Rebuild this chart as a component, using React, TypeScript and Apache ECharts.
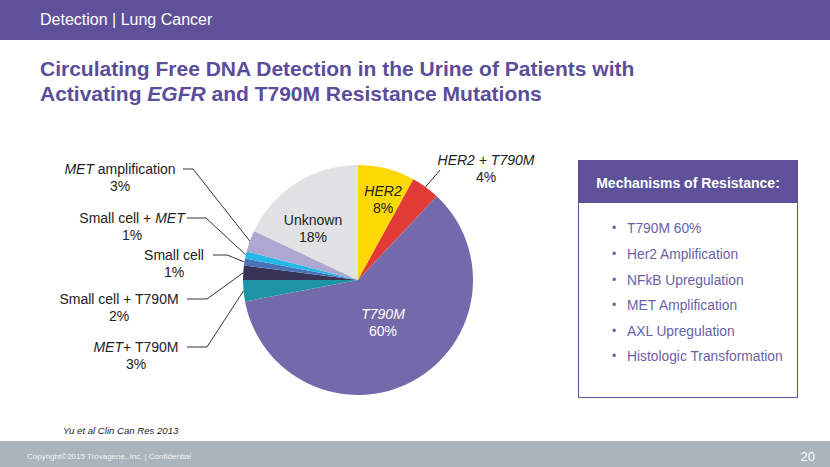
import React, { useEffect, useRef } from "react";
import * as echarts from "echarts";

const categories = [
  "HER2",
  "HER2 + T790M",
  "T790M",
  "MET+ T790M",
  "Small cell + T790M",
  "Small cell",
  "Small cell + MET",
  "MET amplification",
  "Unknown",
];
const values = [8, 4, 60, 3, 2, 1, 1, 3, 18];
const sliceColors = [
  "#FCD804",
  "#E23B36",
  "#7469AA",
  "#1B94A6",
  "#383456",
  "#4A72B9",
  "#22B8EA",
  "#ADA8D2",
  "#E2E2E4",
];
// rich-text markup of each label (italic parts in {i|...})
const labelMarkup = [
  "{i|HER2}\n{n|8%}",
  "{i|HER2 + T790M}\n{n|4%}",
  "{wi|T790M}\n{w|60%}",
  "{i|MET}{n|+ T790M}\n{n|3%}",
  "{n|Small cell + T790M}\n{n|2%}",
  "{n|Small cell}\n{n|1%}",
  "{n|Small cell + }{i|MET}\n{n|1%}",
  "{i|MET}{n| amplification}\n{n|3%}",
  "{n|Unknown}\n{n|18%}",
];
const mechanisms = [
  "T790M 60%",
  "Her2 Amplification",
  "NFkB Upregulation",
  "MET Amplification",
  "AXL Upregulation",
  "Histologic Transformation",
];

const FONT = "'Liberation Sans', Arial, Helvetica, sans-serif";
const PURPLE = "#5E5199";
const TITLE = "#5A4D9A";

// label placement (layout only)
const labelPos: Record<number, { x: number; y: number; elbow?: number[]; end?: number[] }> = {
  0: { x: 383, y: 199 },
  1: { x: 486, y: 168, end: [440, 170] },
  2: { x: 383, y: 322 },
  3: { x: 136, y: 355, elbow: [207, 347], end: [187, 347] },
  4: { x: 119, y: 307, elbow: [207, 299], end: [187, 299] },
  5: { x: 174, y: 263, elbow: [227, 255], end: [213, 255] },
  6: { x: 132, y: 226, elbow: [206, 218], end: [187, 218] },
  7: { x: 120, y: 177, elbow: [193, 169], end: [183, 169] },
  8: { x: 313, y: 228 },
};

const CX = 358;
const CY = 280;
const R = 115;

export default function App() {
  const ref = useRef<HTMLDivElement>(null);
  useEffect(() => {
    if (!ref.current) return;
    const chart = echarts.init(ref.current, null, { renderer: "svg" });
    const total = values.reduce((a, b) => a + b, 0);
    const midAngles: number[] = [];
    let acc = 0;
    values.forEach((v) => {
      midAngles.push(((acc + v / 2) / total) * Math.PI * 2);
      acc += v;
    });
    const insideIdx = [0, 2, 8];
    const fs = 14;
    const lh = 17;
    const rich = {
      n: { fontFamily: FONT, fontSize: fs, color: "#222", lineHeight: lh, align: "center" },
      i: { fontFamily: FONT, fontSize: fs, color: "#222", lineHeight: lh, fontStyle: "italic", align: "center" },
      w: { fontFamily: FONT, fontSize: fs, color: "#fff", lineHeight: lh, align: "center" },
      wi: { fontFamily: FONT, fontSize: fs, color: "#fff", lineHeight: lh, fontStyle: "italic", align: "center" },
    };
    const data = categories.map((name, i) => ({
      name,
      value: values[i],
      itemStyle: { color: sliceColors[i] },
      label: {
        show: true,
        position: insideIdx.includes(i) ? "inside" : "outside",
        formatter: labelMarkup[i],
        rich,
        align: "center",
      },
      labelLine: {
        show: !insideIdx.includes(i),
        lineStyle: { color: "#333", width: 1 },
      },
    }));

    const graphic: any[] = [
      { type: "rect", shape: { x: 0, y: 0, width: 830, height: 40 }, style: { fill: PURPLE } },
      {
        type: "text",
        x: 40,
        y: 19,
        style: { text: "Detection | Lung Cancer", fill: "#fff", font: `16px ${FONT}`, verticalAlign: "middle" },
      },
      {
        type: "text",
        x: 40,
        y: 68,
        style: {
          text: "Circulating Free DNA Detection in the Urine of Patients with",
          fill: TITLE,
          font: `bold 21px ${FONT}`,
          verticalAlign: "middle",
        },
      },
      {
        type: "text",
        x: 40,
        y: 93,
        style: {
          text: "{b|Activating }{bi|EGFR}{b| and T790M Resistance Mutations}",
          verticalAlign: "middle",
          rich: {
            b: { fill: TITLE, font: `bold 21px ${FONT}` },
            bi: { fill: TITLE, font: `italic bold 21px ${FONT}` },
          },
        },
      },
      {
        type: "rect",
        shape: { x: 578.5, y: 160.5, width: 219, height: 237 },
        style: { fill: "#fff", stroke: PURPLE, lineWidth: 1 },
      },
      { type: "rect", shape: { x: 578, y: 160, width: 220, height: 43 }, style: { fill: PURPLE } },
      {
        type: "text",
        x: 688,
        y: 183,
        style: {
          text: "Mechanisms of Resistance:",
          fill: "#fff",
          font: `bold 14px ${FONT}`,
          align: "center",
          verticalAlign: "middle",
        },
      },
      { type: "rect", shape: { x: 0, y: 441, width: 830, height: 26 }, style: { fill: "#A9B4BC" } },
      {
        type: "text",
        x: 27,
        y: 456,
        style: {
          text: "Copyright©2015 Trovagene, Inc. | Confidential",
          fill: "#F2F4F6",
          font: `8px ${FONT}`,
          verticalAlign: "middle",
        },
      },
      {
        type: "text",
        x: 815,
        y: 456,
        style: { text: "20", fill: "#fff", font: `13px ${FONT}`, align: "right", verticalAlign: "middle" },
      },
      {
        type: "text",
        x: 63,
        y: 430,
        style: {
          text: "Yu et al Clin Can Res 2013",
          fill: "#222",
          font: `italic 9.6px ${FONT}`,
          verticalAlign: "middle",
        },
      },
    ];
    const bulletYs = [228, 254, 280, 305, 331, 356];
    mechanisms.forEach((m, i) => {
      graphic.push({
        type: "text",
        x: 612,
        y: bulletYs[i],
        style: { text: "•", fill: "#6A5FA8", font: `12px ${FONT}`, verticalAlign: "middle" },
      });
      graphic.push({
        type: "text",
        x: 627,
        y: bulletYs[i],
        style: { text: m, fill: "#6A5FA8", font: `13.8px ${FONT}`, verticalAlign: "middle" },
      });
    });

    chart.setOption({
      animation: false,
      backgroundColor: "#fff",
      graphic,
      series: [
        {
          type: "pie",
          center: [CX, CY],
          radius: R,
          startAngle: 90,
          clockwise: true,
          avoidLabelOverlap: false,
          silent: true,
          itemStyle: { borderWidth: 0 },
          data,
          labelLayout: (params: any) => {
            const i = params.dataIndex;
            const p = labelPos[i];
            if (!p) return {};
            const a = midAngles[i];
            const edge = [CX + R * Math.sin(a), CY - R * Math.cos(a)];
            const out: any = { x: p.x, y: p.y, align: "center", verticalAlign: "middle" };
            if (p.end) {
              out.labelLinePoints = p.elbow ? [edge, p.elbow, p.end] : [edge, p.end, p.end];
            }
            return out;
          },
        },
      ],
    });
    return () => chart.dispose();
  }, []);
  return (
    <div
      ref={ref}
      style={{ position: "fixed", left: 0, top: 0, width: 830, height: 467 }}
    />
  );
}
